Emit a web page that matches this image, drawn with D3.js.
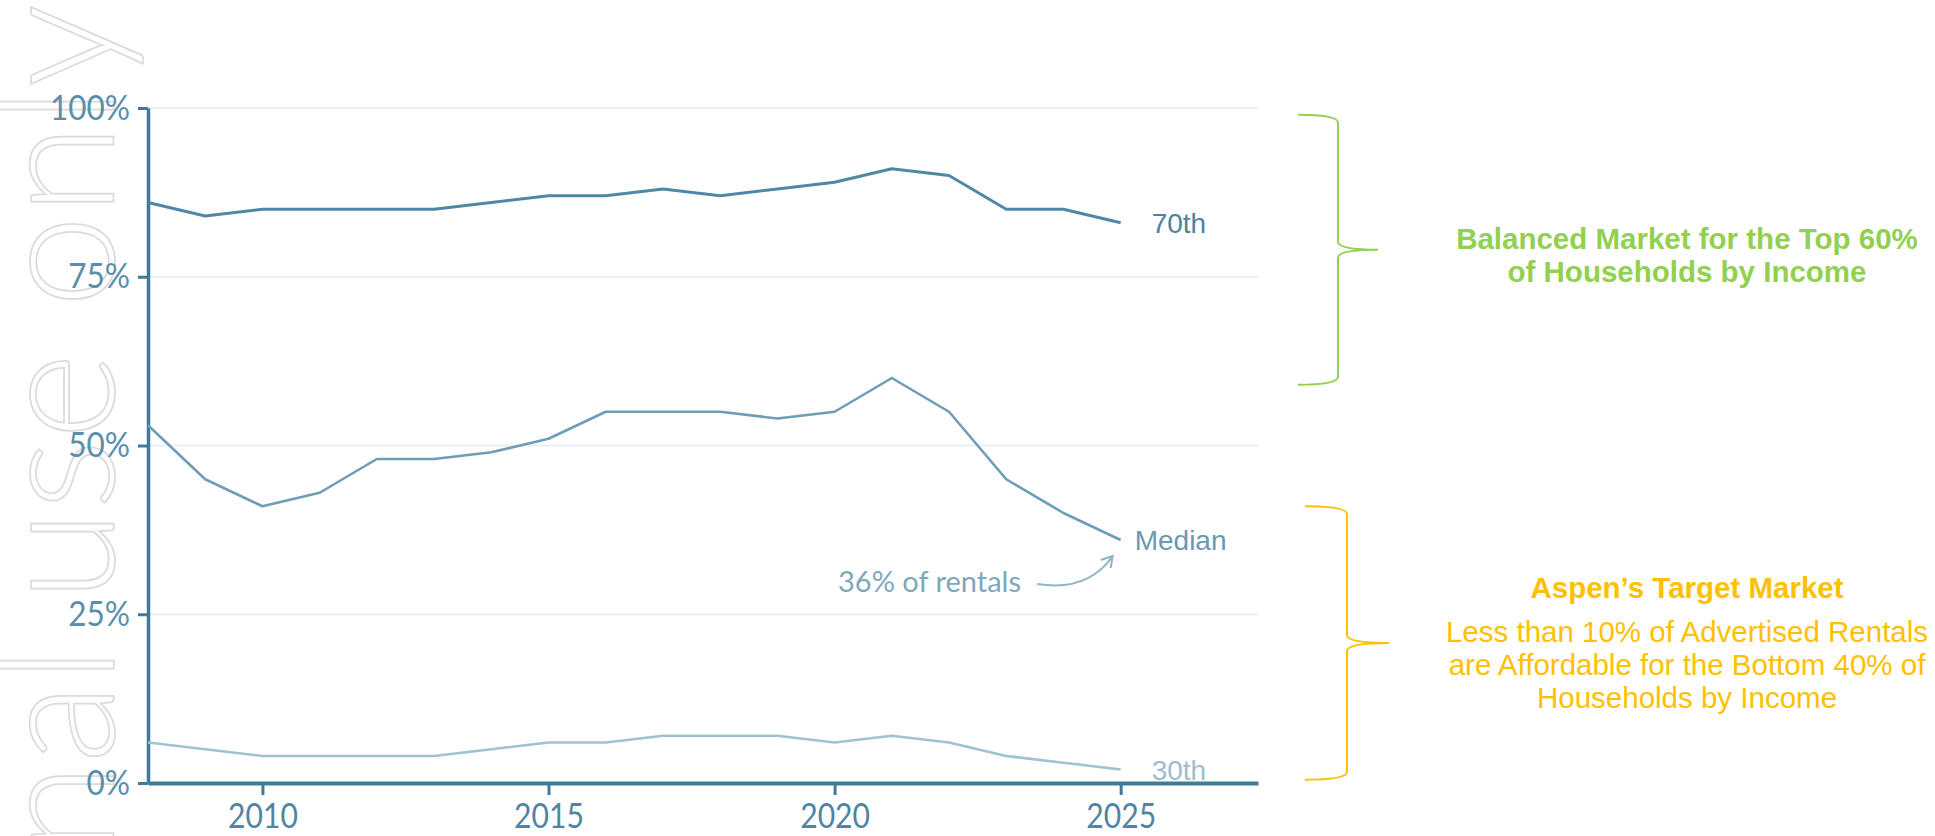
<!DOCTYPE html>
<html>
<head>
<meta charset="utf-8">
<script src="https://cdn.jsdelivr.net/npm/d3@7"></script>
<style>
  html, body { margin: 0; padding: 0; background: #fff; }
  svg { display: block; }
</style>
</head>
<body>
<svg id="chart" width="1935" height="836"></svg>
<script>
// Share of advertised rentals affordable at each household income percentile
const years = d3.range(2008, 2026);
const pct70 = [86, 84, 85, 85, 85, 85, 86, 87, 87, 88, 87, 88, 89, 91, 90, 85, 85, 83];
const pctMedian = [53, 45, 41, 43, 48, 48, 49, 51, 55, 55, 55, 54, 55, 60, 55, 45, 40, 36];
const pct30 = [6, 5, 4, 4, 4, 4, 5, 6, 6, 7, 7, 7, 6, 7, 6, 4, 3, 2];
const yTicks = [0, 25, 50, 75, 100];
const xTicks = [2010, 2015, 2020, 2025];
const seriesNames = ["70th", "Median", "30th"];

const svg = d3.select("#chart");

const x = d3.scaleLinear().domain([2008, 2027.4]).range([148, 1258]);
const y = d3.scaleLinear().domain([0, 100]).range([783, 108]);

// Watermark
svg.append("text")
  .attr("transform", "translate(114,4) rotate(-90)")
  .attr("text-anchor", "end")
  .style("font-family", "Lato, sans-serif")
  .style("font-weight", 300)
  .style("font-size", "166px")
  .attr("fill", "none")
  .attr("stroke", "#dadada")
  .attr("stroke-width", 1.7)
  .text("Personal use only");

// Horizontal gridlines
svg.append("g")
  .selectAll("line")
  .data(yTicks.filter(d => d > 0))
  .join("line")
  .attr("x1", x(2008)).attr("x2", x(2027.4))
  .attr("y1", d => y(d)).attr("y2", d => y(d))
  .attr("stroke", "#e8f0f5")
  .attr("stroke-width", 2);

const axisColor = "#3f7a98";

// Y axis
const yAxis = svg.append("g")
  .attr("transform", `translate(${x(2008)},0)`)
  .call(d3.axisLeft(y).tickValues(yTicks).tickFormat(d => d + "%").tickSize(10).tickSizeOuter(0).tickPadding(10));
yAxis.select(".domain").attr("stroke", axisColor).attr("stroke-width", 3.5);
yAxis.selectAll(".tick line").attr("stroke", axisColor).attr("stroke-width", 3);
yAxis.selectAll(".tick text")
  .attr("fill", "#5a8fab")
  .style("font-family", "Lato, sans-serif")
  .style("font-size", "35px")
  .attr("transform", "scale(0.9,1)");

// X axis
const xAxis = svg.append("g")
  .attr("transform", `translate(0,${y(0)})`)
  .call(d3.axisBottom(x).tickValues(xTicks).tickFormat(d3.format("d")).tickSize(12).tickSizeOuter(0).tickPadding(8));
xAxis.select(".domain").attr("stroke", axisColor).attr("stroke-width", 4);
xAxis.selectAll(".tick line").attr("stroke", axisColor).attr("stroke-width", 3);
xAxis.selectAll(".tick text")
  .attr("fill", "#4d85a3")
  .style("font-family", "Lato, sans-serif")
  .style("font-size", "35px")
  .attr("transform", "scale(0.86,1)");

// Series lines
const line = d3.line().x((d, i) => x(years[i])).y(d => y(d));
const series = [
  { name: seriesNames[0], values: pct70, color: "#4f88a6", width: 3, labelColor: "#4a82a0" },
  { name: seriesNames[1], values: pctMedian, color: "#6e9db6", width: 2.6, labelColor: "#6b98b1" },
  { name: seriesNames[2], values: pct30, color: "#9fc2d3", width: 2.6, labelColor: "#9dbdcd" }
];
svg.append("g")
  .selectAll("path")
  .data(series)
  .join("path")
  .attr("d", d => line(d.values))
  .attr("fill", "none")
  .attr("stroke", d => d.color)
  .attr("stroke-width", d => d.width)
  .attr("stroke-linejoin", "round");

// End-of-line labels
svg.append("g")
  .selectAll("text")
  .data(series)
  .join("text")
  .attr("x", d => x(2025) + (d.name === "Median" ? 14 : 31))
  .attr("y", d => y(d.values[d.values.length - 1]) + 10)
  .attr("fill", d => d.labelColor)
  .style("font-family", "'Liberation Sans', Arial, sans-serif")
  .style("font-size", "28px")
  .text(d => d.name);

// Callout for the latest median value
const lastMedian = pctMedian[pctMedian.length - 1];
svg.append("text")
  .attr("x", 1021)
  .attr("y", y(lastMedian) + 52)
  .attr("text-anchor", "end")
  .attr("fill", "#7ea7bd")
  .style("font-family", "Lato, sans-serif")
  .style("font-size", "29px")
  .text(`${lastMedian}% of rentals`);

const tipX = x(2025) - 8, tipY = y(lastMedian) + 16;
svg.append("path")
  .attr("d", `M1037,${tipY + 28} Q1088,${tipY + 36} ${tipX},${tipY}`)
  .attr("fill", "none")
  .attr("stroke", "#8fb5c8")
  .attr("stroke-width", 2);
svg.append("path")
  .attr("d", `M${tipX - 12},${tipY + 4} L${tipX},${tipY} L${tipX - 2},${tipY + 12}`)
  .attr("fill", "none")
  .attr("stroke", "#8fb5c8")
  .attr("stroke-width", 2);

// Right-hand braces and notes
const braces = [
  { top: 99, bottom: 59, x0: 1298, xv: 1338, xTip: 1378, color: "#92d050" },
  { top: 41, bottom: 0.5, x0: 1305, xv: 1347, xTip: 1389, color: "#ffc000" }
];
function bracePath(b) {
  const t = y(b.top), btm = y(b.bottom), m = (t + btm) / 2, r = 8;
  return `M${b.x0},${t} Q${b.xv},${t} ${b.xv},${t + r} L${b.xv},${m - r} Q${b.xv},${m} ${b.xTip},${m}` +
         ` Q${b.xv},${m} ${b.xv},${m + r} L${b.xv},${btm - r} Q${b.xv},${btm} ${b.x0},${btm}`;
}
svg.append("g")
  .selectAll("path")
  .data(braces)
  .join("path")
  .attr("d", bracePath)
  .attr("fill", "none")
  .attr("stroke", d => d.color)
  .attr("stroke-width", 2);

const notes = [
  { text: "Balanced Market for the Top 60%", y: 249, color: "#92d050", weight: 700 },
  { text: "of Households by Income", y: 282, color: "#92d050", weight: 700 },
  { text: "Aspen\u2019s Target Market", y: 598, color: "#ffc000", weight: 700 },
  { text: "Less than 10% of Advertised Rentals", y: 642, color: "#ffc000", weight: 400 },
  { text: "are Affordable for the Bottom 40% of", y: 675, color: "#ffc000", weight: 400 },
  { text: "Households by Income", y: 708, color: "#ffc000", weight: 400 }
];
svg.append("g")
  .selectAll("text")
  .data(notes)
  .join("text")
  .attr("x", 1687)
  .attr("y", d => d.y)
  .attr("text-anchor", "middle")
  .attr("fill", d => d.color)
  .style("font-family", "'Liberation Sans', Arial, sans-serif")
  .style("font-size", "29.5px")
  .style("font-weight", d => d.weight)
  .text(d => d.text);
</script>
</body>
</html>
